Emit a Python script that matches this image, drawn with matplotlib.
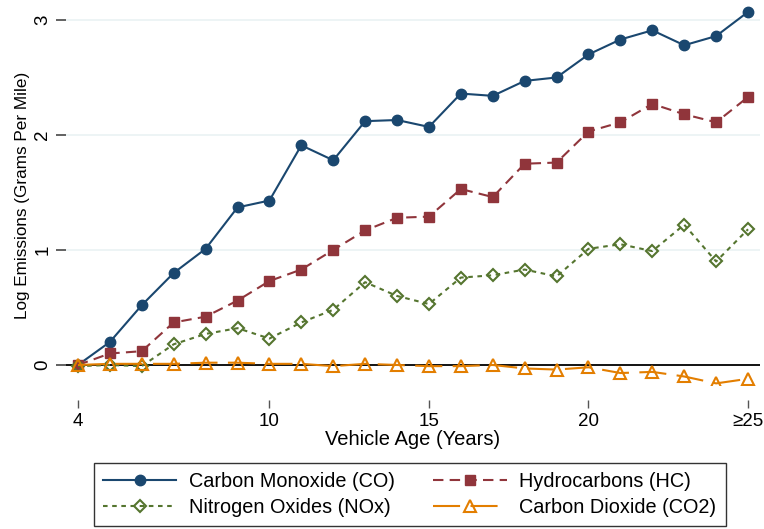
import matplotlib
matplotlib.use("Agg")
import matplotlib.pyplot as plt

# vehicle age 4..25 (25 means 25 and older)
ages = list(range(4, 26))
co = [0.00, 0.20, 0.52, 0.80, 1.01, 1.37, 1.43, 1.91, 1.78, 2.12, 2.13,
      2.07, 2.36, 2.34, 2.47, 2.50, 2.70, 2.83, 2.91, 2.78, 2.86, 3.07]
hc = [0.00, 0.10, 0.12, 0.37, 0.42, 0.56, 0.73, 0.83, 1.00, 1.17, 1.28,
      1.29, 1.53, 1.46, 1.75, 1.76, 2.03, 2.11, 2.27, 2.18, 2.11, 2.33]
nox = [-0.01, 0.00, -0.01, 0.18, 0.27, 0.32, 0.23, 0.37, 0.48, 0.72, 0.60,
       0.53, 0.76, 0.78, 0.83, 0.77, 1.01, 1.05, 0.99, 1.22, 0.90, 1.18]
co2 = [0.00, 0.01, 0.01, 0.01, 0.02, 0.02, 0.01, 0.01, -0.01, 0.01, 0.00,
       -0.01, -0.01, 0.00, -0.03, -0.04, -0.02, -0.07, -0.06, -0.10, -0.16, -0.12]

xticks = [4, 10, 15, 20, 25]
xticklabels = ["4", "10", "15", "20", "\u226525"]
yticks = [0, 1, 2, 3]

navy = "#1a476f"
maroon = "#90353b"
green = "#55752f"
orange = "#e37e00"

plt.rcParams["font.family"] = ["Liberation Sans", "DejaVu Sans"]

W, H = 764, 529
fig = plt.figure(figsize=(W / 100, H / 100), dpi=100)
ax = fig.add_axes([66 / W, 1 - 385 / H, (760 - 66) / W, (385 - 5) / H])

ax.set_xlim(3.625, 25.375)
ax.set_ylim(-0.174, 3.13)

# light grid lines and the black zero line
for y in yticks[1:]:
    ax.axhline(y, color="#eaf2f3", lw=1.2, zorder=0)
ax.axhline(0, color="black", lw=1.3, zorder=1)

l_co, = ax.plot(ages, co, color=navy, lw=1.5, marker="o", ms=7.5,
                label="Carbon Monoxide (CO)", zorder=3)
l_hc, = ax.plot(ages, hc, color=maroon, lw=1.5, ls=(0, (5, 3)), marker="s", ms=7,
                label="Hydrocarbons (HC)", zorder=3)
l_nox, = ax.plot(ages, nox, color=green, lw=1.5, ls=(0, (2.2, 2.2)), marker="D", ms=6.5,
                 mfc="none", mew=1.5, label="Nitrogen Oxides (NOx)", zorder=3)
l_co2, = ax.plot(ages, co2, color=orange, lw=1.5, ls=(0, (13, 5)), marker="^", ms=8,
                 mfc="none", mew=1.5, label="Carbon Dioxide (CO2)", zorder=4)

for s in ax.spines.values():
    s.set_visible(False)
ax.spines["bottom"].set_position(("outward", 11))

ax.set_xticks(xticks)
ax.set_xticklabels(xticklabels)
ax.set_yticks(yticks)
ax.set_yticklabels([str(v) for v in yticks], rotation=90, va="center")
ax.tick_params(axis="x", direction="out", length=6, width=1, color="#555555",
               labelsize=13.5, pad=3)
ax.tick_params(axis="y", direction="out", length=7, width=1.3, color="#555555",
               labelsize=13.5, pad=3.5)

ax.set_xlabel("Vehicle Age (Years)", fontsize=14.5, labelpad=0)
ax.set_ylabel("Log Emissions (Grams Per Mile)", fontsize=12.3, labelpad=3)

# legend: row 1 CO / HC, row 2 NOx / CO2
leg = fig.legend([l_co, l_nox, l_hc, l_co2],
                 [l_co.get_label(), l_nox.get_label(), l_hc.get_label(), l_co2.get_label()],
                 loc="upper left", bbox_to_anchor=(94 / W, 1 - 463 / H),
                 ncol=2, fontsize=14.3, handlelength=3.7, handletextpad=0.65,
                 columnspacing=1.9, labelspacing=0.35, borderpad=0.45,
                 borderaxespad=0, frameon=True, fancybox=False)
leg.get_frame().set_edgecolor("black")
leg.get_frame().set_linewidth(1.0)

fig.savefig("out.png", dpi=100)
